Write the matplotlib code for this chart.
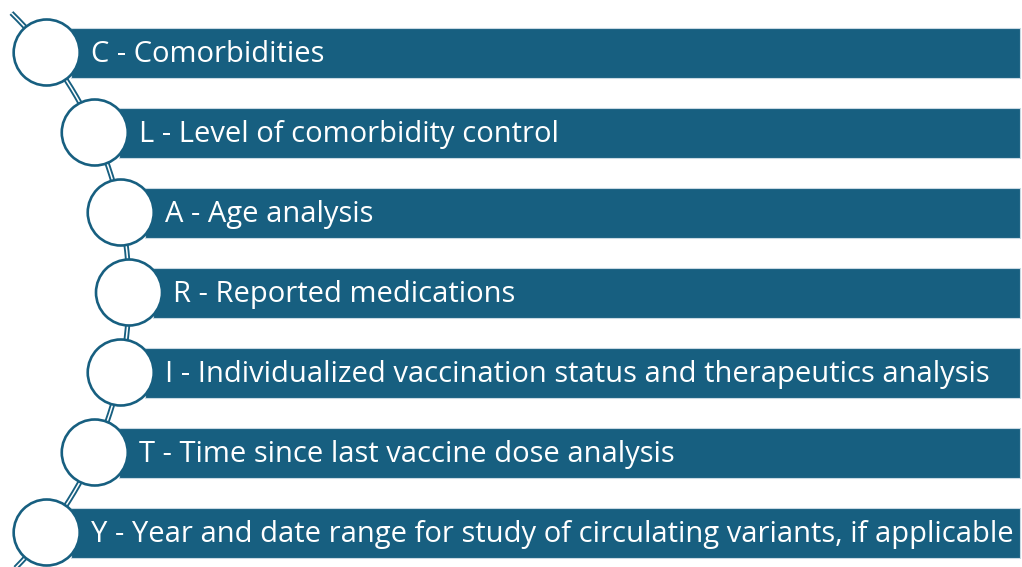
import numpy as np
import matplotlib
matplotlib.use("Agg")
import matplotlib.pyplot as plt
from matplotlib.patches import Rectangle, Circle

labels = [
    "C - Comorbidities",
    "L - Level of comorbidity control",
    "A - Age analysis",
    "R - Reported medications",
    "I - Individualized vaccination status and therapeutics analysis",
    "T - Time since last vaccine dose analysis",
    "Y - Year and date range for study of circulating variants, if applicable",
]

W, H = 1022, 567
COLOR = "#175f80"

fig = plt.figure(figsize=(W / 100, H / 100), dpi=100)
ax = fig.add_axes([0, 0, 1, 0.999999])
ax.set_xlim(0, W)
ax.set_ylim(H, 0)
ax.axis("off")

# layout: circles sit on an arc bulging to the right
n = len(labels)
y0, step = 52.5, 80
arc_cx, arc_cy, arc_r = -262, y0 + step * (n - 1) / 2, 391
ys = y0 + step * np.arange(n)
xs = arc_cx + np.sqrt(arc_r**2 - (ys - arc_cy) ** 2)

# connector arc (double line)
t0 = np.arcsin((13 - arc_cy) / arc_r)
t1 = np.arcsin((585 - arc_cy) / arc_r)
t = np.linspace(t0, t1, 400)
ax_arc = arc_cx + arc_r * np.cos(t)
ay_arc = arc_cy + arc_r * np.sin(t)
ax.plot(ax_arc, ay_arc, color=COLOR, lw=3.8, zorder=1, solid_capstyle="butt")
ax.plot(ax_arc, ay_arc, color="white", lw=1.1, zorder=1.1, solid_capstyle="butt")

bar_h = 50
for x, y, lab in zip(xs, ys, labels):
    ax.add_patch(Rectangle((x + 24, y - bar_h / 2), W - 2 - (x + 24), bar_h,
                           facecolor=COLOR, edgecolor="#c9d9e3", lw=0.8, zorder=2))
    ax.add_patch(Circle((x, y), 33, facecolor="white", edgecolor=COLOR, lw=1.9, zorder=3))
    ax.text(x + 44, y + 2, lab, color="white", fontsize=21, family="Open Sans",
            va="center", ha="left", zorder=4)

fig.savefig("out.png", dpi=100)
